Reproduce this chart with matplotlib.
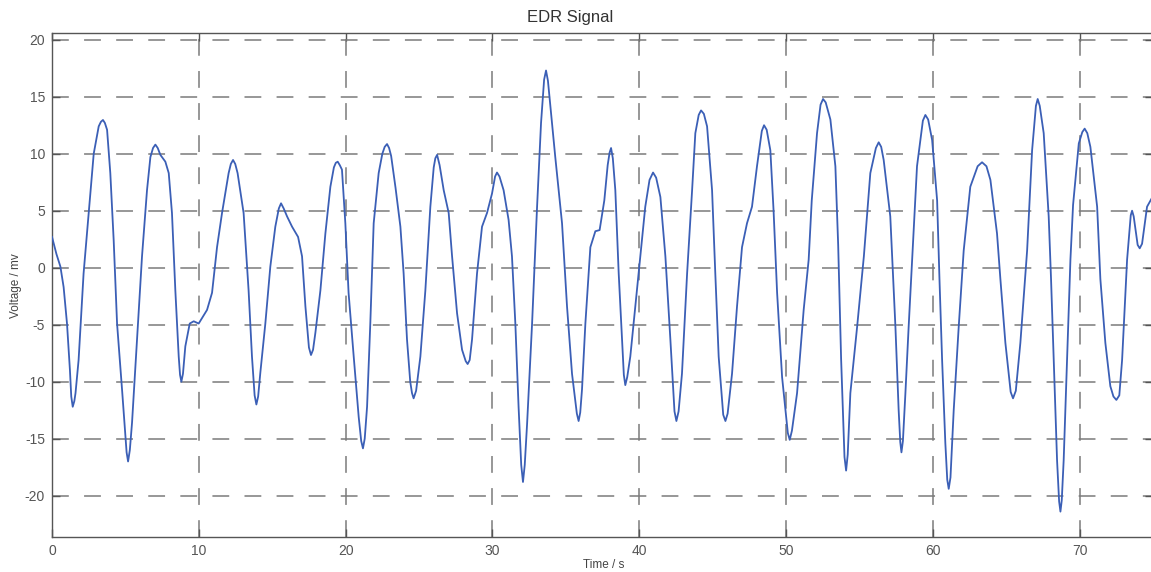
import matplotlib
matplotlib.use("Agg")
import matplotlib.pyplot as plt

# EDR signal, points
time_s = [
    0.00, 0.30, 0.57, 0.79, 1.02, 1.22, 1.31, 1.41, 1.52, 1.60, 1.81, 2.15, 2.50, 2.84, 3.18, 3.33,
    3.47, 3.60, 3.75, 3.97, 4.20, 4.43, 4.77, 5.00, 5.08, 5.18, 5.30, 5.45, 5.79, 6.13, 6.47, 6.70,
    6.88, 7.04, 7.20, 7.38, 7.72, 7.95, 8.17, 8.40, 8.63, 8.72, 8.81, 8.92, 9.08, 9.38, 9.65, 9.99,
    10.56, 10.90, 11.24, 11.58, 12.03, 12.18, 12.33, 12.48, 12.64, 13.05, 13.39, 13.62, 13.80, 13.92,
    14.04, 14.19, 14.53, 14.87, 15.21, 15.45, 15.60, 15.78, 16.01, 16.35, 16.76, 17.03, 17.26, 17.50,
    17.64, 17.78, 17.94, 18.28, 18.62, 18.96, 19.20, 19.33, 19.46, 19.60, 19.75, 19.98, 20.20, 20.55,
    20.89, 21.06, 21.18, 21.30, 21.46, 21.68, 21.91, 22.25, 22.50, 22.66, 22.82, 22.96, 23.10, 23.40,
    23.73, 23.95, 24.18, 24.40, 24.52, 24.63, 24.80, 25.09, 25.43, 25.77, 26.00, 26.11, 26.23, 26.40,
    26.68, 27.02, 27.25, 27.59, 27.93, 28.18, 28.31, 28.45, 28.61, 28.95, 29.29, 29.63, 29.97, 30.18,
    30.31, 30.48, 30.76, 31.10, 31.33, 31.56, 31.78, 31.96, 32.08, 32.20, 32.36, 32.70, 33.04, 33.31,
    33.52, 33.65, 33.78, 33.95, 34.28, 34.74, 35.08, 35.42, 35.75, 35.87, 35.98, 36.10, 36.33, 36.67,
    37.01, 37.30, 37.62, 37.85, 37.98, 38.08, 38.20, 38.37, 38.60, 38.83, 38.95, 39.05, 39.18, 39.39,
    39.73, 40.07, 40.41, 40.70, 40.94, 41.15, 41.44, 41.78, 42.12, 42.40, 42.53, 42.68, 42.91, 43.26,
    43.60, 43.82, 44.05, 44.21, 44.40, 44.62, 44.96, 45.18, 45.41, 45.72, 45.87, 46.02, 46.32, 46.66,
    47.00, 47.34, 47.68, 48.02, 48.35, 48.50, 48.68, 48.93, 49.15, 49.39, 49.73, 50.12, 50.25, 50.40,
    50.75, 51.20, 51.54, 51.75, 52.11, 52.35, 52.52, 52.70, 53.02, 53.36, 53.55, 53.75, 53.98, 54.09,
    54.20, 54.38, 54.84, 55.30, 55.74, 56.12, 56.31, 56.48, 56.65, 57.10, 57.30, 57.45, 57.67, 57.78,
    57.86, 57.96, 58.13, 58.35, 58.58, 58.92, 59.32, 59.49, 59.68, 59.95, 60.29, 60.45, 60.63, 60.85,
    60.98, 61.08, 61.20, 61.42, 61.76, 62.10, 62.55, 63.05, 63.35, 63.65, 63.92, 64.37, 64.60, 64.94,
    65.30, 65.46, 65.65, 65.96, 66.42, 66.76, 67.02, 67.14, 67.28, 67.55, 67.89, 68.05, 68.23, 68.46,
    68.60, 68.69, 68.78, 68.91, 69.14, 69.37, 69.55, 69.94, 70.18, 70.34, 70.52, 70.73, 71.19, 71.41,
    71.75, 72.09, 72.30, 72.50, 72.70, 72.89, 73.23, 73.48, 73.57, 73.68, 73.95, 74.09, 74.25, 74.59,
    75.00,
]
voltage_mv = [
    2.7, 1.2, 0.1, -1.7, -4.9, -9.0, -11.3, -12.2, -11.7, -11.0, -8.1, -0.5, 4.8, 10.0, 12.4, 12.8,
    12.96, 12.7, 12.1, 8.3, 2.4, -4.9, -10.7, -14.8, -16.2, -17.0, -16.0, -13.6, -6.3, 1.0, 6.8, 9.7,
    10.5, 10.8, 10.5, 9.9, 9.3, 8.3, 4.8, -2.0, -7.8, -9.4, -10.0, -9.3, -6.9, -4.9, -4.7, -4.9,
    -3.7, -2.2, 1.8, 4.8, 8.3, 9.1, 9.45, 9.1, 8.3, 4.8, -2.0, -7.8, -11.2, -12.0,
    -11.3, -9.2, -4.9, 0.1, 3.6, 5.2, 5.65, 5.2, 4.5, 3.6, 2.7, 1.0, -3.4, -7.0,
    -7.66, -7.2, -5.7, -2.0, 3.0, 7.1, 8.8, 9.2, 9.3, 9.0, 8.6, 3.9, -2.2, -7.8,
    -13.1, -15.2, -15.85, -15.0, -12.2, -4.9, 3.9, 8.3, 10.0, 10.6, 10.85, 10.5, 9.8, 7.0,
    3.6, -0.5, -6.3, -10.0, -11.0, -11.46, -10.8, -7.8, -2.0, 5.35, 8.8, 9.6, 9.9, 9.0,
    6.8, 4.8, 1.0, -4.0, -7.2, -8.2, -8.45, -8.1, -6.3, -0.5, 3.6, 4.8, 6.5, 8.0,
    8.35, 8.0, 6.8, 4.2, 1.0, -4.9, -12.2, -17.3, -18.8, -17.3, -13.7, -4.9, 5.35, 12.7,
    16.5, 17.3, 16.4, 14.1, 9.7, 3.9, -3.4, -9.3, -12.8, -13.45, -12.7, -10.7, -4.9, 1.8,
    3.2, 3.3, 5.9, 9.0, 10.1, 10.5, 9.6, 6.8, -0.5, -6.3, -9.4, -10.3, -9.6, -7.8,
    -3.4, 1.0, 5.35, 7.7, 8.35, 7.9, 6.2, 1.0, -6.3, -12.6, -13.45, -12.6, -9.3, -0.5,
    6.8, 11.8, 13.4, 13.8, 13.5, 12.4, 6.8, -0.5, -7.8, -12.9, -13.45, -12.8, -9.3, -3.4,
    1.8, 3.9, 5.35, 8.9, 12.0, 12.5, 12.1, 10.3, 5.0, -2.2, -9.6, -14.5, -15.1, -14.3,
    -11.0, -3.7, 0.7, 5.9, 11.8, 14.3, 14.8, 14.5, 13.0, 8.9, 2.0, -8.0, -16.6, -17.8,
    -16.4, -11.0, -5.2, 1.0, 8.3, 10.5, 11.0, 10.6, 9.45, 4.5, -1.0, -5.2, -12.5, -15.3,
    -16.2, -15.2, -11.0, -5.2, 0.5, 8.9, 12.9, 13.4, 13.0, 11.2, 5.9, -1.0, -8.1, -15.4,
    -18.6, -19.4, -18.4, -12.5, -5.2, 1.5, 7.1, 8.9, 9.25, 8.9, 7.7, 3.0, -1.0, -6.6,
    -10.9, -11.46, -10.8, -6.6, 1.5, 10.3, 14.2, 14.8, 14.2, 11.8, 4.5, -1.0, -8.1, -16.9,
    -20.5, -21.4, -20.4, -16.9, -8.1, 0.7, 5.5, 10.9, 11.9, 12.2, 11.8, 10.6, 5.35, -1.0,
    -6.6, -10.4, -11.3, -11.6, -11.2, -8.1, 0.7, 4.6, 5.0, 4.5, 2.0, 1.7, 2.1, 5.35,
    6.3,
]
x_ticks = [0, 10, 20, 30, 40, 50, 60, 70]
y_ticks = [-20, -15, -10, -5, 0, 5, 10, 15, 20]

plt.rcParams['font.family'] = ['Liberation Sans', 'DejaVu Sans']
plt.rcParams['axes.unicode_minus'] = False

fig = plt.figure(figsize=(11.51, 5.72), dpi=100)
ax = fig.add_axes([0.0452, 0.0607, 0.9566, 0.881])

ax.plot(time_s, voltage_mv, color='#3b5fb6', linewidth=1.3, zorder=3)

ax.set_xlim(0, 75)
ax.set_ylim(-23.65, 20.56)
ax.set_xticks(x_ticks)
ax.set_yticks(y_ticks)

# matlab style: dashed grid, ticks inside on all sides
ax.grid(True, linestyle=(0, (11, 10)), color='#7a7a7a', linewidth=1.1, zorder=1)
ax.tick_params(direction='in', length=6, width=1, color='#555555', labelcolor='#555555',
               labelsize=10, top=True, right=True, pad=5)
for s in ax.spines.values():
    s.set_color('#555555')
    s.set_linewidth(1.0)

ax.set_title("EDR Signal", fontsize=12, color='#333333', x=0.4705, pad=8)
ax.set_xlabel("Time / s", fontsize=8.5, color='#444444')
ax.xaxis.set_label_coords(0.501, -0.043)
ax.set_ylabel("Voltage / mv", fontsize=8.5, color='#444444')
ax.yaxis.set_label_coords(-0.027, 0.50)

fig.savefig("out.png", dpi=100)
